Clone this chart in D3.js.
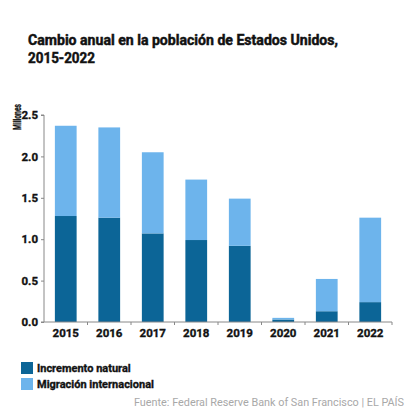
<!DOCTYPE html>
<html><head><meta charset="utf-8">
<script src="https://cdn.jsdelivr.net/npm/d3@7"></script>
<style>body{margin:0;background:#fff}svg{display:block}</style>
</head><body><div id="chart"></div>
<script>
const years = ["2015","2016","2017","2018","2019","2020","2021","2022"];
const natural = [1.28,1.26,1.07,0.99,0.92,0.03,0.13,0.24];
const migration = [1.09,1.09,0.98,0.73,0.57,0.02,0.39,1.02];
const yTicks = [0,0.5,1.0,1.5,2.0,2.5];
const seriesNames = ["Incremento natural","Migración internacional"];
const colors = ["#0c6597","#6db4ec"];

const W=414,H=414;
const svg=d3.select("#chart").append("svg").attr("width",W).attr("height",H);
const font="Roboto, 'Liberation Sans', Arial, sans-serif";
const heavy=(sel,w)=>sel.attr("stroke","#111").attr("stroke-width",w).attr("paint-order","stroke");

heavy(svg.append("text").attr("x",28).attr("y",45).attr("font-family",font).attr("font-weight",700)
  .attr("font-size",15).attr("fill","#111").attr("textLength",310).attr("lengthAdjust","spacingAndGlyphs")
  .text("Cambio anual en la población de Estados Unidos,"),0.5);
heavy(svg.append("text").attr("x",28).attr("y",63).attr("font-family",font).attr("font-weight",700)
  .attr("font-size",15).attr("fill","#111").attr("textLength",67).attr("lengthAdjust","spacingAndGlyphs")
  .text("2015-2022"),0.5);

const x=d3.scaleBand().domain(years).range([44,392]).paddingInner(0.5).paddingOuter(0.25);
const y=d3.scaleLinear().domain([0,2.5]).range([322,115]);

const data=years.map((yr,i)=>({year:yr,natural:natural[i],migration:migration[i]}));
const stack=d3.stack().keys(["natural","migration"])(data);

svg.append("g").selectAll("g").data(stack).join("g").attr("fill",(d,i)=>colors[i])
  .selectAll("rect").data(d=>d).join("rect")
  .attr("x",d=>x(d.data.year)).attr("width",x.bandwidth())
  .attr("y",d=>y(d[1])).attr("height",d=>y(d[0])-y(d[1]));

// y axis
const ya=svg.append("g").attr("transform","translate(44,0)")
  .call(d3.axisLeft(y).tickValues(yTicks).tickFormat(d3.format(".1f")).tickSize(3).tickPadding(3));
ya.select(".domain").attr("stroke","#888").attr("d","M-3,115H0V322H-3");
ya.selectAll(".tick line").attr("stroke","#888");
heavy(ya.selectAll("text").attr("font-family",font).attr("font-weight",700).attr("font-size",11.5).attr("fill","#111"),0.35);

// x axis
const xa=svg.append("g").attr("transform","translate(0,322)");
xa.append("line").attr("x1",44).attr("x2",392).attr("stroke","#888");
const bounds=d3.range(1,years.length+1).map(i=>44+x.step()*i);
xa.selectAll("line.t").data(bounds).join("line").attr("class","t")
  .attr("x1",d=>d).attr("x2",d=>d).attr("y1",0).attr("y2",3).attr("stroke","#888");
heavy(xa.selectAll("text").data(years).join("text")
  .attr("x",d=>x(d)+x.bandwidth()/2).attr("y",15).attr("text-anchor","middle")
  .attr("font-family",font).attr("font-weight",700).attr("font-size",11.5).attr("fill","#111").text(d=>d),0.35);

heavy(svg.append("text").attr("transform","translate(21,130) rotate(-90)")
  .attr("font-family",font).attr("font-weight",700).attr("font-size",10).attr("fill","#111")
  .attr("textLength",26).attr("lengthAdjust","spacingAndGlyphs").text("Millones"),0.3);

// legend
const lg=svg.append("g");
seriesNames.forEach((n,i)=>{
  lg.append("rect").attr("x",21).attr("y",362+i*16).attr("width",12).attr("height",12).attr("fill",colors[i]);
  heavy(lg.append("text").attr("x",37).attr("y",372+i*16).attr("font-family",font).attr("font-weight",700)
    .attr("font-size",11).attr("fill","#111").text(n),0.35);
});

svg.append("text").attr("x",404).attr("y",406).attr("text-anchor","end").attr("font-family",font)
  .attr("font-size",11).attr("fill","#a8a8a8").attr("textLength",270).attr("lengthAdjust","spacingAndGlyphs")
  .text("Fuente: Federal Reserve Bank of San Francisco | EL PAÍS");
</script></body></html>
